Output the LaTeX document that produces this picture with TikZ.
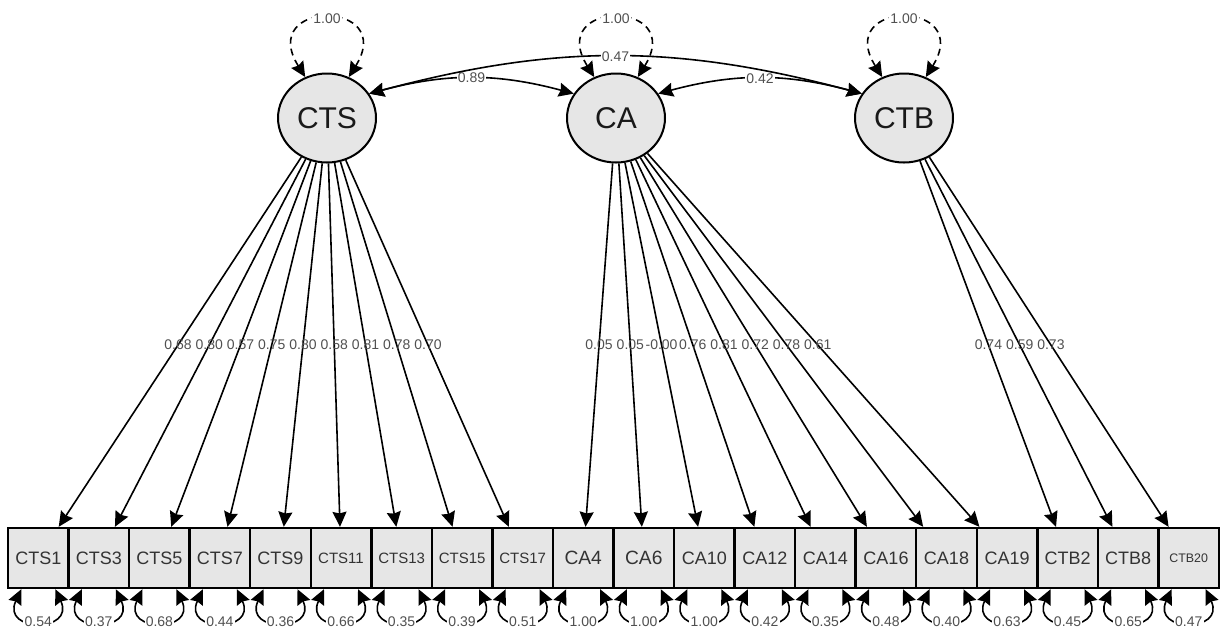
\documentclass[tikz,border=0pt]{standalone}
\usepackage{fontspec}
\setmainfont{Liberation Sans}
\usetikzlibrary{shapes.geometric,arrows.meta,calc}
\definecolor{nodegray}{HTML}{E6E6E6}
\definecolor{labelgray}{HTML}{505050}

\begin{document}
\begin{tikzpicture}[x=0.5pt,y=-0.5pt,
    latent/.style={ellipse,draw,line width=1pt,fill=nodegray,minimum width=49pt,minimum height=44.5pt,inner sep=0pt,text=black!90,font=\fontsize{15pt}{15pt}\selectfont},
    item/.style={rectangle,draw,line width=1.2pt,fill=nodegray,minimum width=30.275pt,minimum height=30pt,inner sep=0pt,text=black!80,font=\fontsize{9pt}{9pt}\selectfont},
    itemsm/.style={item,font=\fontsize{7.5pt}{7.5pt}\selectfont},
    itemlg/.style={item,font=\fontsize{9.6pt}{9.6pt}\selectfont},
    itemxs/.style={item,font=\fontsize{6.2pt}{6.2pt}\selectfont},
    tip/.tip={Stealth[length=7.5pt,width=7pt,inset=0.8pt]},
    load/.style={-tip,line width=0.8pt},
    cov/.style={tip-tip,line width=0.8pt},
    var/.style={tip-tip,line width=0.8pt,dash pattern=on 3.5pt off 2.5pt},
    res/.style={tip-tip,line width=0.8pt},
    lbl/.style={fill=white,inner sep=0.6pt,text=labelgray,font=\fontsize{7pt}{7pt}\selectfont},
    ld/.style={inner sep=0pt,text=labelgray,font=\fontsize{7pt}{7pt}\selectfont}]
  \useasboundingbox (0,0) rectangle (1221,629);

  % latent factors
  \node[latent] (CTS) at (327,118) {CTS};
  \node[latent] (CA) at (616,118) {CA};
  \node[latent] (CTB) at (904,118) {CTB};

  % indicators
  \node[item] (CTS1) at (38.3,558) {CTS1};
  \node[item] (CTS3) at (98.8,558) {CTS3};
  \node[item] (CTS5) at (159.4,558) {CTS5};
  \node[item] (CTS7) at (219.9,558) {CTS7};
  \node[item] (CTS9) at (280.5,558) {CTS9};
  \node[itemsm] (CTS11) at (341.0,558) {CTS11};
  \node[itemsm] (CTS13) at (401.6,558) {CTS13};
  \node[itemsm] (CTS15) at (462.1,558) {CTS15};
  \node[itemsm] (CTS17) at (522.7,558) {CTS17};
  \node[itemlg] (CA4) at (583.2,558) {CA4};
  \node[itemlg] (CA6) at (643.8,558) {CA6};
  \node[item] (CA10) at (704.3,558) {CA10};
  \node[item] (CA12) at (764.9,558) {CA12};
  \node[item] (CA14) at (825.4,558) {CA14};
  \node[item] (CA16) at (886.0,558) {CA16};
  \node[item] (CA18) at (946.5,558) {CA18};
  \node[item] (CA19) at (1007.1,558) {CA19};
  \node[item] (CTB2) at (1067.6,558) {CTB2};
  \node[item] (CTB8) at (1128.2,558) {CTB8};
  \node[itemxs] (CTB20) at (1188.7,558) {CTB20};

  % factor variances
  \draw[var] (CTS.118) .. controls +(122:46pt) and +(58:46pt) .. (CTS.62) node[pos=.5,lbl] (vCTS) {1.00};
  \draw[var] (CA.118) .. controls +(122:46pt) and +(58:46pt) .. (CA.62) node[pos=.5,lbl] (vCA) {1.00};
  \draw[var] (CTB.118) .. controls +(122:46pt) and +(58:46pt) .. (CTB.62) node[pos=.5,lbl] (vCTB) {1.00};

  % covariances
  \draw[cov] (CTS.30) to[bend left=15] node[lbl] (c1) {0.89} (CA.150);
  \draw[cov] (CA.30) to[bend left=15] node[lbl] (c2) {0.42} (CTB.150);
  \draw[cov] (CTS.30) to[bend left=15] node[lbl] (c3) {0.47} (CTB.150);

  % loadings
  \draw[load] (CTS) -- (CTS1);
  \draw[load] (CTS) -- (CTS3);
  \draw[load] (CTS) -- (CTS5);
  \draw[load] (CTS) -- (CTS7);
  \draw[load] (CTS) -- (CTS9);
  \draw[load] (CTS) -- (CTS11);
  \draw[load] (CTS) -- (CTS13);
  \draw[load] (CTS) -- (CTS15);
  \draw[load] (CTS) -- (CTS17);
  \draw[load] (CA) -- (CA4);
  \draw[load] (CA) -- (CA6);
  \draw[load] (CA) -- (CA10);
  \draw[load] (CA) -- (CA12);
  \draw[load] (CA) -- (CA14);
  \draw[load] (CA) -- (CA16);
  \draw[load] (CA) -- (CA18);
  \draw[load] (CA) -- (CA19);
  \draw[load] (CTB) -- (CTB2);
  \draw[load] (CTB) -- (CTB8);
  \draw[load] (CTB) -- (CTB20);

  \node[ld] (l1) at ($(CTS)!0.516!(CTS1)$) {0.68};
  \node[ld] (l2) at ($(CTS)!0.516!(CTS3)$) {0.80};
  \node[ld] (l3) at ($(CTS)!0.516!(CTS5)$) {0.57};
  \node[ld] (l4) at ($(CTS)!0.516!(CTS7)$) {0.75};
  \node[ld] (l5) at ($(CTS)!0.516!(CTS9)$) {0.80};
  \node[ld] (l6) at ($(CTS)!0.516!(CTS11)$) {0.58};
  \node[ld] (l7) at ($(CTS)!0.516!(CTS13)$) {0.81};
  \node[ld] (l8) at ($(CTS)!0.516!(CTS15)$) {0.78};
  \node[ld] (l9) at ($(CTS)!0.516!(CTS17)$) {0.70};
  \node[ld] (l10) at ($(CA)!0.516!(CA4)$) {0.05};
  \node[ld] (l11) at ($(CA)!0.516!(CA6)$) {0.05};
  \node[ld] (l12) at ($(CA)!0.516!(CA10)$) {-0.00};
  \node[ld] (l13) at ($(CA)!0.516!(CA12)$) {0.76};
  \node[ld] (l14) at ($(CA)!0.516!(CA14)$) {0.81};
  \node[ld] (l15) at ($(CA)!0.516!(CA16)$) {0.72};
  \node[ld] (l16) at ($(CA)!0.516!(CA18)$) {0.78};
  \node[ld] (l17) at ($(CA)!0.516!(CA19)$) {0.61};
  \node[ld] (l18) at ($(CTB)!0.516!(CTB2)$) {0.74};
  \node[ld] (l19) at ($(CTB)!0.516!(CTB8)$) {0.59};
  \node[ld] (l20) at ($(CTB)!0.516!(CTB20)$) {0.73};

  % residual variances
  \draw[res] ([xshift=-8.5pt]CTS1.south) .. controls +(-115:24pt) and +(-65:24pt) .. ([xshift=8.5pt]CTS1.south) node[pos=.5,lbl] (r1) {0.54};
  \draw[res] ([xshift=-8.5pt]CTS3.south) .. controls +(-115:24pt) and +(-65:24pt) .. ([xshift=8.5pt]CTS3.south) node[pos=.5,lbl] (r2) {0.37};
  \draw[res] ([xshift=-8.5pt]CTS5.south) .. controls +(-115:24pt) and +(-65:24pt) .. ([xshift=8.5pt]CTS5.south) node[pos=.5,lbl] (r3) {0.68};
  \draw[res] ([xshift=-8.5pt]CTS7.south) .. controls +(-115:24pt) and +(-65:24pt) .. ([xshift=8.5pt]CTS7.south) node[pos=.5,lbl] (r4) {0.44};
  \draw[res] ([xshift=-8.5pt]CTS9.south) .. controls +(-115:24pt) and +(-65:24pt) .. ([xshift=8.5pt]CTS9.south) node[pos=.5,lbl] (r5) {0.36};
  \draw[res] ([xshift=-8.5pt]CTS11.south) .. controls +(-115:24pt) and +(-65:24pt) .. ([xshift=8.5pt]CTS11.south) node[pos=.5,lbl] (r6) {0.66};
  \draw[res] ([xshift=-8.5pt]CTS13.south) .. controls +(-115:24pt) and +(-65:24pt) .. ([xshift=8.5pt]CTS13.south) node[pos=.5,lbl] (r7) {0.35};
  \draw[res] ([xshift=-8.5pt]CTS15.south) .. controls +(-115:24pt) and +(-65:24pt) .. ([xshift=8.5pt]CTS15.south) node[pos=.5,lbl] (r8) {0.39};
  \draw[res] ([xshift=-8.5pt]CTS17.south) .. controls +(-115:24pt) and +(-65:24pt) .. ([xshift=8.5pt]CTS17.south) node[pos=.5,lbl] (r9) {0.51};
  \draw[res] ([xshift=-8.5pt]CA4.south) .. controls +(-115:24pt) and +(-65:24pt) .. ([xshift=8.5pt]CA4.south) node[pos=.5,lbl] (r10) {1.00};
  \draw[res] ([xshift=-8.5pt]CA6.south) .. controls +(-115:24pt) and +(-65:24pt) .. ([xshift=8.5pt]CA6.south) node[pos=.5,lbl] (r11) {1.00};
  \draw[res] ([xshift=-8.5pt]CA10.south) .. controls +(-115:24pt) and +(-65:24pt) .. ([xshift=8.5pt]CA10.south) node[pos=.5,lbl] (r12) {1.00};
  \draw[res] ([xshift=-8.5pt]CA12.south) .. controls +(-115:24pt) and +(-65:24pt) .. ([xshift=8.5pt]CA12.south) node[pos=.5,lbl] (r13) {0.42};
  \draw[res] ([xshift=-8.5pt]CA14.south) .. controls +(-115:24pt) and +(-65:24pt) .. ([xshift=8.5pt]CA14.south) node[pos=.5,lbl] (r14) {0.35};
  \draw[res] ([xshift=-8.5pt]CA16.south) .. controls +(-115:24pt) and +(-65:24pt) .. ([xshift=8.5pt]CA16.south) node[pos=.5,lbl] (r15) {0.48};
  \draw[res] ([xshift=-8.5pt]CA18.south) .. controls +(-115:24pt) and +(-65:24pt) .. ([xshift=8.5pt]CA18.south) node[pos=.5,lbl] (r16) {0.40};
  \draw[res] ([xshift=-8.5pt]CA19.south) .. controls +(-115:24pt) and +(-65:24pt) .. ([xshift=8.5pt]CA19.south) node[pos=.5,lbl] (r17) {0.63};
  \draw[res] ([xshift=-8.5pt]CTB2.south) .. controls +(-115:24pt) and +(-65:24pt) .. ([xshift=8.5pt]CTB2.south) node[pos=.5,lbl] (r18) {0.45};
  \draw[res] ([xshift=-8.5pt]CTB8.south) .. controls +(-115:24pt) and +(-65:24pt) .. ([xshift=8.5pt]CTB8.south) node[pos=.5,lbl] (r19) {0.65};
  \draw[res] ([xshift=-8.5pt]CTB20.south) .. controls +(-115:24pt) and +(-65:24pt) .. ([xshift=8.5pt]CTB20.south) node[pos=.5,lbl] (r20) {0.47};
\end{tikzpicture}
\end{document}
